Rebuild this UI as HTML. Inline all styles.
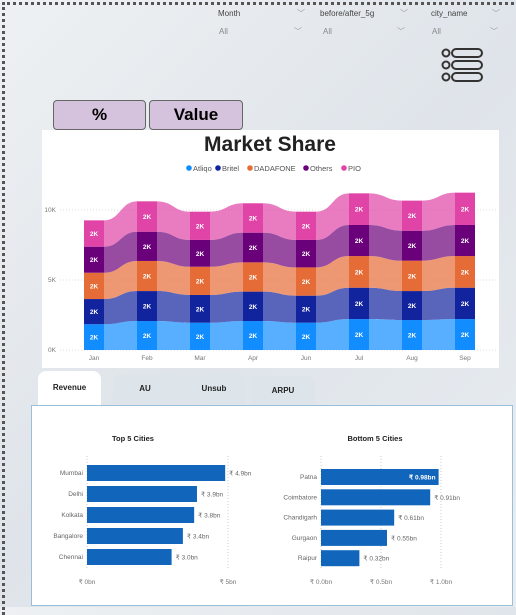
<!DOCTYPE html>
<html><head><meta charset="utf-8"><style>
body{margin:0;width:516px;height:607px;overflow:hidden;font-family:"Liberation Sans",sans-serif;background:linear-gradient(135deg,#eef1f3,#dfe4ea 50%,#e9edf1);position:relative}
.abs{position:absolute}
.flt{font-size:8px;color:#444}
.all{font-size:8px;color:#888}
.chev{font-size:8px;color:#999}
.btn{position:absolute;top:100px;height:28px;background:#d5c3dd;border:1.5px solid #666;border-radius:4px;font-weight:bold;font-size:17px;text-align:center;line-height:28px}
.tab{position:absolute;height:30px;border-radius:8px 8px 0 0;background:#dde5ea;font-size:8px;font-weight:bold;text-align:center;line-height:30px;color:#222}
</style></head><body>
<div class="abs" style="left:2px;top:2px;width:520px;height:610px;border-left:3px dotted #555;border-top:3px dotted #555"></div>
<div class="abs flt" style="left:218px;top:9px">Month</div>
<div class="abs chev" style="left:297px;top:8px">﹀</div>
<div class="abs all" style="left:219px;top:27px">All</div>
<div class="abs chev" style="left:294px;top:26px">﹀</div>
<div class="abs flt" style="left:320px;top:9px">before/after_5g</div>
<div class="abs chev" style="left:400px;top:8px">﹀</div>
<div class="abs all" style="left:323px;top:27px">All</div>
<div class="abs chev" style="left:397px;top:26px">﹀</div>
<div class="abs flt" style="left:431px;top:9px">city_name</div>
<div class="abs chev" style="left:492px;top:8px">﹀</div>
<div class="abs all" style="left:432px;top:27px">All</div>
<div class="abs chev" style="left:490px;top:26px">﹀</div>
<svg class="abs" style="left:440px;top:47px" width="50" height="44">
<g fill="none" stroke="#333" stroke-width="2"><circle cx="6" cy="6" r="3.5"/><rect x="12" y="2" width="30" height="8" rx="4"/><circle cx="6" cy="18" r="3.5"/><rect x="12" y="14" width="30" height="8" rx="4"/><circle cx="6" cy="30" r="3.5"/><rect x="12" y="26" width="30" height="8" rx="4"/></g></svg>
<div class="btn" style="left:53px;width:91px">%</div>
<div class="btn" style="left:149px;width:92px">Value</div>
<div class="abs" style="left:42px;top:130px;width:457px;height:238px;background:#fff"></div>
<svg class="abs" id="ms" style="left:0;top:0" width="516" height="400"></svg>
<div class="tab" style="left:38px;top:371px;width:63px;height:34px;background:#fff;line-height:34px">Revenue</div>
<div class="tab" style="left:113px;top:374px;width:64px">AU</div>
<div class="tab" style="left:182px;top:374px;width:64px">Unsub</div>
<div class="tab" style="left:251px;top:376px;width:64px">ARPU</div>
<div class="abs" style="left:31px;top:405px;width:480px;height:199px;background:#fff;border:1px solid #9bbfd8"></div>
<svg class="abs" id="bc" style="left:0;top:0" width="516" height="607"></svg>
<script>
const months=["Jan","Feb","Mar","Apr","Jun","Jul","Aug","Sep"];
const seriesNames=["Atliqo","Britel","DADAFONE","Others","PIO"];
const atliqo=[1.84,2.07,1.95,2.07,1.95,2.21,2.14,2.21];
const britel=[1.80,2.14,1.98,2.10,1.93,2.24,2.07,2.24];
const dadafone=[1.88,2.15,2.02,2.09,2.02,2.26,2.17,2.26];
const others=[1.86,2.09,1.91,2.12,1.96,2.22,2.14,2.22];
const pio=[1.88,2.17,2.02,2.10,2.02,2.26,2.15,2.31];
const yTicks=[0,5,10];
const topCities=["Mumbai","Delhi","Kolkata","Bangalore","Chennai"];
const topVals=[4.9,3.9,3.8,3.4,3.0];
const topLabels=["₹ 4.9bn","₹ 3.9bn","₹ 3.8bn","₹ 3.4bn","₹ 3.0bn"];
const topTicks=[0,5];
const botCities=["Patna","Coimbatore","Chandigarh","Gurgaon","Raipur"];
const botVals=[0.98,0.91,0.61,0.55,0.32];
const botLabels=["₹ 0.98bn","₹ 0.91bn","₹ 0.61bn","₹ 0.55bn","₹ 0.32bn"];
const botTicks=[0,0.5,1.0];
const botTickLabels=["₹ 0.0bn","₹ 0.5bn","₹ 1.0bn"];

const NS="http://www.w3.org/2000/svg";
function mk(p,t,a,txt){const e=document.createElementNS(NS,t);for(const k in a)e.setAttribute(k,a[k]);if(txt!=null)e.textContent=txt;p.appendChild(e);return e;}
const ms=document.getElementById('ms');
const colors=["#118DFF","#12239E","#E66C37","#6B007B","#E044A7"];
const series=[atliqo,britel,dadafone,others,pio];
const x=i=>94+i*53, y=v=>350-v*14, bw=20;
// title & legend
let t=mk(ms,'text',{x:270,y:151,'text-anchor':'middle','font-size':21,'font-weight':'bold',fill:'#222'},'Market Share');


let lx=[186,215,247,303,341];
seriesNames.forEach((n,i)=>{
 const g=mk(ms,'g',{});
 
 
 mk(g,'circle',{cx:lx[i]+3,cy:168,r:2.8,fill:colors[i]});
 mk(g,'text',{x:lx[i]+7,y:171,'font-size':7.5,fill:'#555'},n);
});
yTicks.forEach(v=>{
 mk(ms,'line',{x1:60,x2:498,y1:y(v),y2:y(v),stroke:'#ddd','stroke-dasharray':'1,2'});
 const e=mk(ms,'text',{x:56,y:y(v)+2,'text-anchor':'end','font-size':6.5,fill:'#777'},v+'K');
 
 
});
const cum=months.map((_,i)=>{let c=[0];series.forEach(s=>c.push(c[c.length-1]+s[i]));return c;});
for(let k=0;k<5;k++){
 for(let i=0;i<months.length-1;i++){
  const x0=x(i)+bw/2,x1=x(i+1)-bw/2,m=(x0+x1)/2;
  const b0=y(cum[i][k]),t0=y(cum[i][k+1]),b1=y(cum[i+1][k]),t1=y(cum[i+1][k+1]);
  const p=mk(ms,'path',{d:`M${x0},${t0} C${m},${t0} ${m},${t1} ${x1},${t1} L${x1},${b1} C${m},${b1} ${m},${b0} ${x0},${b0} Z`,fill:colors[k],opacity:0.7});
  
  
 }
 months.forEach((mo,i)=>{
  const r=mk(ms,'rect',{x:x(i)-bw/2,y:y(cum[i][k+1]),width:bw,height:series[k][i]*14,fill:colors[k]});
  
  
  mk(ms,'text',{x:x(i),y:y((cum[i][k]+cum[i][k+1])/2)+2.5,'text-anchor':'middle','font-size':6.5,'font-weight':'bold',fill:'#fff'},'2K');
 });
}
months.forEach((mo,i)=>{
 const e=mk(ms,'text',{x:x(i),y:360,'text-anchor':'middle','font-size':6.5,fill:'#777'},mo);
 
 
});
// bar charts
const bc=document.getElementById('bc');
function hbar(title,tx,cities,vals,labels,x0,scale,y0,step,ticks,tickLabels,inside){
 const tt=mk(bc,'text',{x:tx,y:441,'text-anchor':'middle','font-size':7.5,'font-weight':'bold',fill:'#222'},title);
 
 
 ticks.forEach((v,i)=>{
  mk(bc,'line',{x1:x0+v*scale,x2:x0+v*scale,y1:456,y2:570,stroke:'#ccc','stroke-dasharray':'1,2'});
  const e=mk(bc,'text',{x:x0+v*scale,y:584,'text-anchor':'middle','font-size':6.5,fill:'#777'},tickLabels[i]);
  
  
 });
 cities.forEach((c,i)=>{
  const yy=y0+i*step;
  mk(bc,'text',{x:x0-4,y:yy+10,'text-anchor':'end','font-size':6.5,fill:'#666'},c);
  const r=mk(bc,'rect',{x:x0,y:yy,width:vals[i]*scale,height:16,fill:'#1166BB'});
  
  
  if(inside&&i===0) mk(bc,'text',{x:x0+vals[i]*scale-3,y:yy+10.5,'text-anchor':'end','font-size':6.5,'font-weight':'bold',fill:'#fff'},labels[i]);
  else mk(bc,'text',{x:x0+vals[i]*scale+4,y:yy+10.5,'font-size':6.5,fill:'#666'},labels[i]);
 });
}
hbar('Top 5 Cities',133,topCities,topVals,topLabels,87,28.2,465,21,topTicks,["₹ 0bn","₹ 5bn"],false);
hbar('Bottom 5 Cities',375,botCities,botVals,botLabels,321,120,469,20.3,botTicks,botTickLabels,true);
</script>
</body></html>
